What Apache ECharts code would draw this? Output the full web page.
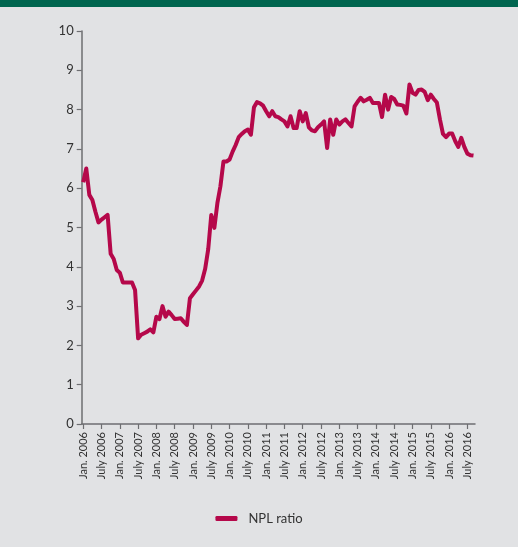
<!DOCTYPE html>
<html>
<head>
<meta charset="utf-8">
<script src="https://cdn.jsdelivr.net/npm/echarts@6.0.0/dist/echarts.min.js"></script>
<style>
  html, body { margin: 0; padding: 0; background: #e1e2e4; }
  #chart { width: 518px; height: 547px; }
</style>
</head>
<body>
<div id="chart"></div>
<script>
// Monthly non-performing loan ratio (%), Jan. 2006 onwards
const monthNames = ['Jan.', 'Feb.', 'Mar.', 'Apr.', 'May', 'June', 'July', 'Aug.', 'Sep.', 'Oct.', 'Nov.', 'Dec.'];
const firstYear = 2006;
const seriesName = 'NPL ratio';

const nplRatio = [
  // 2006
  6.15, 6.50, 5.83, 5.70, 5.40, 5.13, 5.20, 5.26, 5.32, 4.33, 4.20, 3.92,
  // 2007
  3.85, 3.60, 3.60, 3.60, 3.60, 3.41, 2.18, 2.27, 2.31, 2.35, 2.41, 2.33,
  // 2008
  2.73, 2.67, 3.00, 2.73, 2.86, 2.77, 2.67, 2.68, 2.69, 2.60, 2.52, 3.20,
  // 2009
  3.30, 3.40, 3.50, 3.65, 3.95, 4.45, 5.32, 4.99, 5.62, 6.05, 6.68, 6.68,
  // 2010
  6.73, 6.93, 7.10, 7.30, 7.38, 7.45, 7.49, 7.36, 8.06, 8.19, 8.16, 8.10,
  // 2011
  7.96, 7.83, 7.96, 7.83, 7.81, 7.75, 7.70, 7.57, 7.83, 7.53, 7.53, 7.96,
  // 2012
  7.70, 7.91, 7.55, 7.47, 7.45, 7.55, 7.62, 7.70, 7.02, 7.75, 7.36, 7.75,
  // 2013
  7.62, 7.70, 7.75, 7.66, 7.57, 8.08, 8.20, 8.30, 8.21, 8.25, 8.30, 8.17,
  // 2014
  8.17, 8.17, 7.81, 8.38, 8.00, 8.32, 8.27, 8.13, 8.12, 8.10, 7.90, 8.64,
  // 2015
  8.43, 8.38, 8.50, 8.51, 8.45, 8.24, 8.38, 8.27, 8.18, 7.75, 7.38, 7.30,
  // 2016
  7.39, 7.39, 7.20, 7.05, 7.28, 7.05, 6.88, 6.84, 6.83
];

// Month categories, e.g. "Jan. 2006", "July 2006"
const months = nplRatio.map((_, i) => monthNames[i % 12] + ' ' + (firstYear + Math.floor(i / 12)));

const yMin = 0;
const yMax = 10;
const yStep = 1;

const axisGrey = '#6d6e71';
const textGrey = '#333333';
const lineRed = '#b5084a';

const chart = echarts.init(document.getElementById('chart'), null, { renderer: 'canvas' });

chart.setOption({
  backgroundColor: '#e1e2e4',
  animation: false,
  textStyle: { fontFamily: 'Lato, "Noto Sans", sans-serif' },
  graphic: [
    {
      type: 'rect',
      left: 0,
      top: 0,
      shape: { width: 518, height: 7 },
      style: { fill: '#00654f' },
      silent: true
    }
  ],
  grid: {
    left: 81.7,
    right: 43,
    top: 31,
    bottom: 123,
    containLabel: false
  },
  legend: {
    data: [seriesName],
    bottom: 17,
    left: 'center',
    icon: 'roundRect',
    itemWidth: 22,
    itemHeight: 5,
    textStyle: { color: textGrey, fontSize: 13, fontFamily: 'Lato', padding: [0, 0, 0, 6] }
  },
  xAxis: {
    type: 'category',
    data: months,
    boundaryGap: true,
    axisLine: { show: true, lineStyle: { color: axisGrey, width: 1.5 } },
    axisTick: {
      show: true,
      alignWithLabel: true,
      interval: (i) => i % 6 === 0,
      length: 5,
      lineStyle: { color: axisGrey, width: 1.2 }
    },
    axisLabel: {
      interval: (i) => i % 6 === 0,
      rotate: 90,
      margin: 8,
      color: textGrey,
      fontSize: 11,
      fontFamily: 'Lato'
    },
    splitLine: { show: false }
  },
  yAxis: {
    type: 'value',
    min: yMin,
    max: yMax,
    interval: yStep,
    axisLine: { show: true, lineStyle: { color: axisGrey, width: 1.5 } },
    axisTick: { show: true, length: 5, lineStyle: { color: axisGrey, width: 1.2 } },
    axisLabel: { margin: 8, color: textGrey, fontSize: 13, fontFamily: 'Lato' },
    splitLine: { show: false }
  },
  series: [
    {
      name: seriesName,
      type: 'line',
      data: nplRatio,
      symbol: 'none',
      lineStyle: { color: lineRed, width: 4, join: 'round' },
      itemStyle: { color: lineRed }
    }
  ]
});
</script>
</body>
</html>
